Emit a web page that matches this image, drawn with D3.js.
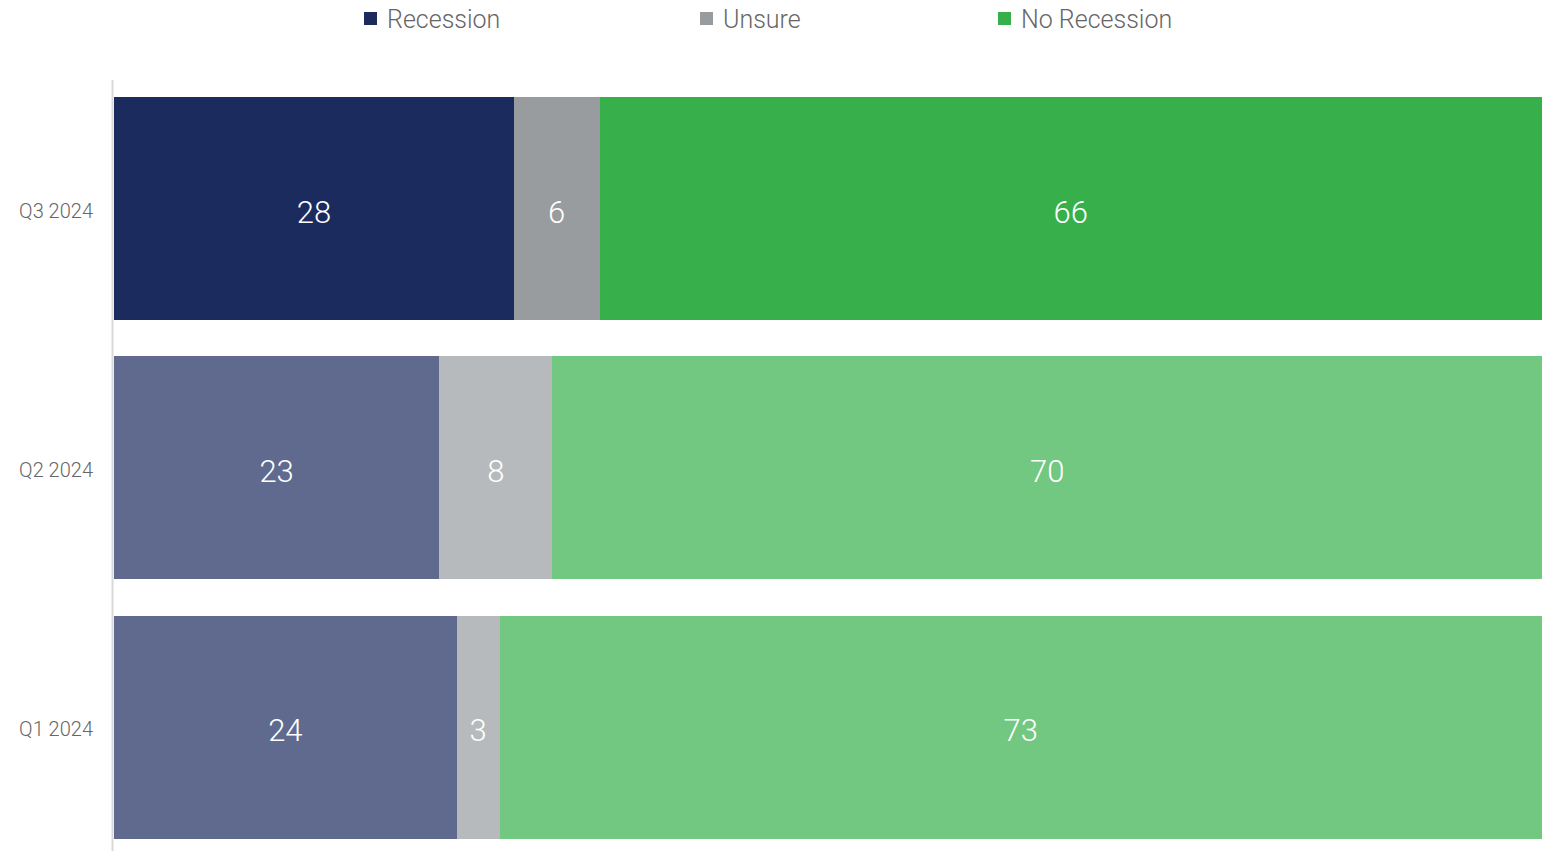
<!DOCTYPE html>
<html>
<head>
<meta charset="utf-8">
<script src="https://cdn.jsdelivr.net/npm/d3@7"></script>
<style>
  body { margin: 0; background: #fff; }
  svg { display: block; font-family: "Roboto", sans-serif; font-weight: 300; }
</style>
</head>
<body>
<div id="chart"></div>
<script>
var quarters = ["Q3 2024", "Q2 2024", "Q1 2024"];
var seriesNames = ["Recession", "Unsure", "No Recession"];
var recession = [28, 23, 24];
var unsure = [6, 8, 3];
var noRecession = [66, 70, 73];

var colors = ["#1c2b5e", "#999c9f", "#37b04b"];

var w = 1550, h = 851;
var left = 114, right = 1542;

var svg = d3.select("#chart").append("svg")
  .attr("width", w)
  .attr("height", h);

var rows = quarters.map(function(q, i) {
  var vals = [recession[i], unsure[i], noRecession[i]];
  var total = d3.sum(vals);
  var acc = 0;
  var segs = vals.map(function(v, j) {
    var s = { q: q, row: i, k: j, v: v, x0: acc / total, x1: (acc + v) / total };
    acc += v;
    return s;
  });
  return segs;
});

var xScale = d3.scaleLinear().domain([0, 1]).range([left, right]);

var yScale = d3.scaleBand()
  .domain(quarters)
  .range([79, 857])
  .paddingInner(0.1385)
  .paddingOuter(0.0692);

var segs = d3.merge(rows);

svg.selectAll("rect.seg")
  .data(segs)
  .enter()
  .append("rect")
  .attr("class", "seg")
  .attr("x", function(d) { return Math.round(xScale(d.x0)); })
  .attr("width", function(d) { return Math.round(xScale(d.x1)) - Math.round(xScale(d.x0)); })
  .attr("y", function(d) { return Math.round(yScale(d.q)); })
  .attr("height", Math.round(yScale.bandwidth()))
  .attr("shape-rendering", "crispEdges")
  .attr("fill", function(d) { return colors[d.k]; })
  .attr("fill-opacity", function(d) { return d.row === 0 ? 1 : 0.7; });

svg.selectAll("text.val")
  .data(segs)
  .enter()
  .append("text")
  .attr("class", "val")
  .attr("x", function(d) { return (xScale(d.x0) + xScale(d.x1)) / 2; })
  .attr("y", function(d) { return yScale(d.q) + yScale.bandwidth() / 2; })
  .attr("dy", "0.45em")
  .attr("text-anchor", "middle")
  .attr("fill", "#fff")
  .style("font-size", "31px")
  .text(function(d) { return d.v; });

// category axis
var yAxis = d3.axisLeft(yScale).tickSize(0).tickPadding(21);
var gy = svg.append("g")
  .attr("transform", "translate(" + left + ",0)")
  .call(yAxis);
gy.select(".domain").remove();
gy.selectAll("text")
  .attr("fill", "#666")
  .attr("dy", "0.45em")
  .style("font-size", "20px")
  .style("font-weight", 300)
  .style("font-family", "Roboto, sans-serif");

svg.append("line")
  .attr("x1", 112.5).attr("x2", 112.5)
  .attr("y1", 80).attr("y2", h)
  .attr("stroke", "#d9d9d9")
  .attr("stroke-width", 2);

// legend
var legendX = [364, 700, 998];
var legend = svg.selectAll("g.legend")
  .data(seriesNames)
  .enter()
  .append("g")
  .attr("class", "legend")
  .attr("transform", function(d, i) { return "translate(" + legendX[i] + ",0)"; });

legend.append("rect")
  .attr("x", 0).attr("y", 12)
  .attr("width", 13).attr("height", 13)
  .attr("fill", function(d, i) { return colors[i]; });

legend.append("text")
  .attr("x", 23).attr("y", 28)
  .attr("fill", "#666")
  .style("font-size", "25px")
  .text(function(d) { return d; });
</script>
</body>
</html>
